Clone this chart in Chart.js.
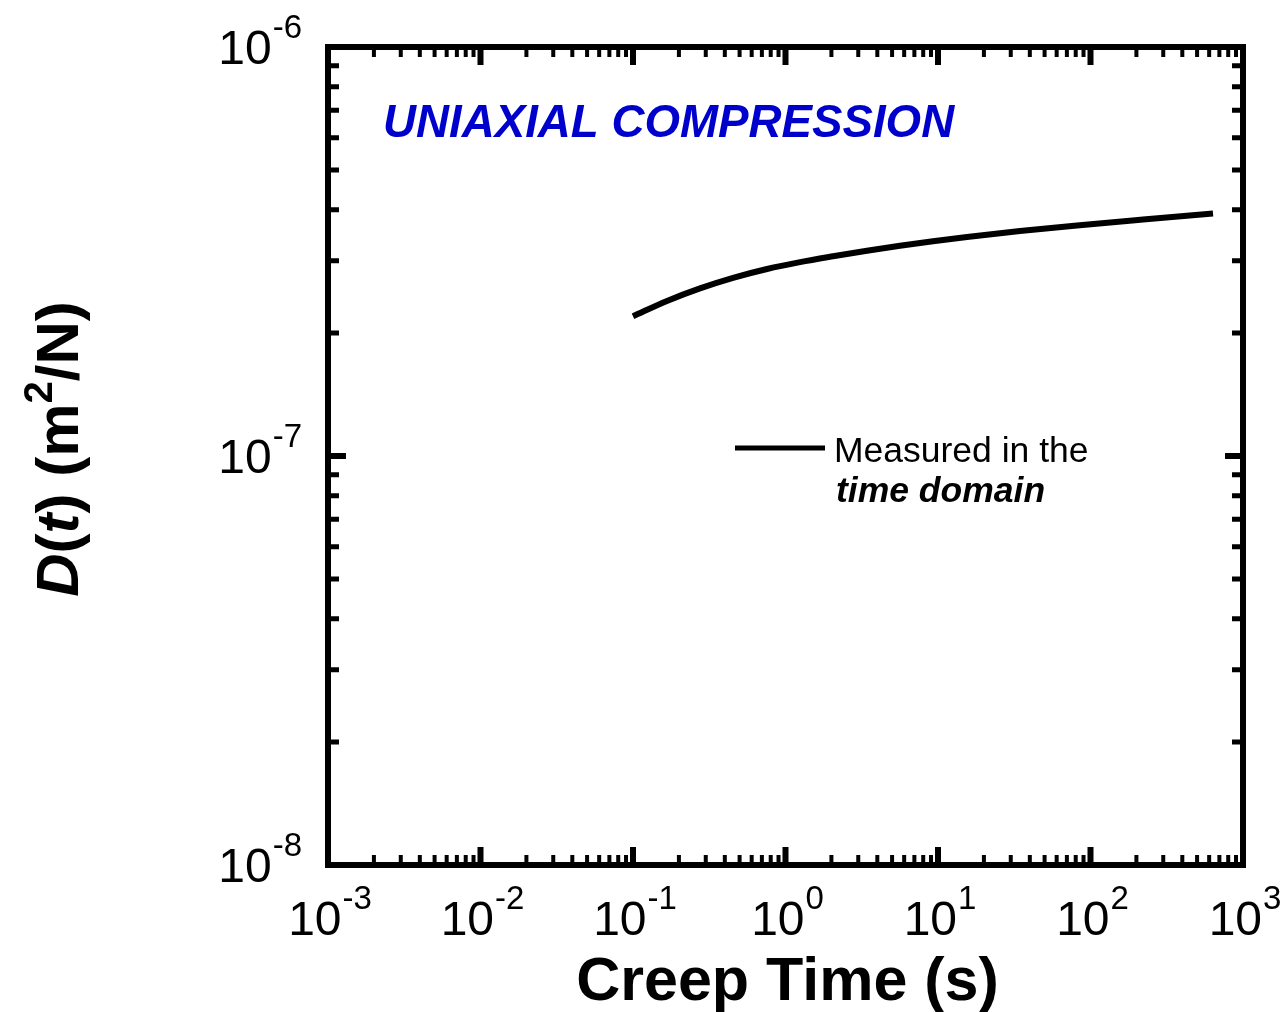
<!DOCTYPE html>
<html>
<head>
<meta charset="utf-8">
<title>Creep compliance</title>
<script src="https://cdn.jsdelivr.net/npm/chart.js@4/dist/chart.umd.min.js"></script>
<style>
  html, body { margin: 0; padding: 0; background: #fff; }
  #chart { display: block; }
</style>
</head>
<body>
<canvas id="chart" width="1288" height="1012"></canvas>
<script>
// creep compliance D(t) measured in the time domain
const creepTime = [0.1, 0.167, 0.275, 0.453, 0.757, 1.245, 2.05, 3.42, 5.63, 9.27, 15.5, 34.5, 81.5, 221, 636];
const compliance = [2.196e-7, 2.394e-7, 2.569e-7, 2.726e-7, 2.865e-7, 2.978e-7, 3.078e-7, 3.177e-7, 3.267e-7, 3.351e-7, 3.433e-7, 3.547e-7, 3.662e-7, 3.786e-7, 3.916e-7];

// axis decades (tick labels are 10^exp)
const xExponents = [-3, -2, -1, 0, 1, 2, 3];
const yExponents = [-8, -7, -6];

const FONT = '"Liberation Sans", Arial, Helvetica, sans-serif';

function minorTicks(exps) {
  const out = [];
  for (let i = 0; i < exps.length - 1; i++) {
    for (let m = 2; m <= 9; m++) out.push(m * Math.pow(10, exps[i]));
  }
  return out;
}

// "10" with a superscript exponent; returns total width
function powWidth(ctx, exp) {
  ctx.font = '48px ' + FONT;
  const w1 = ctx.measureText('10').width;
  ctx.font = '33px ' + FONT;
  return w1 + ctx.measureText(String(exp)).width + 1;
}
function drawPow(ctx, x, y, exp) {
  ctx.textAlign = 'left';
  ctx.textBaseline = 'alphabetic';
  ctx.font = '48px ' + FONT;
  ctx.fillText('10', x, y);
  const w1 = ctx.measureText('10').width;
  ctx.font = '33px ' + FONT;
  ctx.fillText(String(exp), x + w1 + 1, y - 26);
}

// draw a sequence of styled runs along the current baseline
function drawRuns(ctx, runs, x, y) {
  let cx = x;
  runs.forEach(r => {
    ctx.font = r.font;
    ctx.fillText(r.text, cx, y + (r.dy || 0));
    cx += ctx.measureText(r.text).width;
  });
}
function runsWidth(ctx, runs) {
  return runs.reduce((s, r) => { ctx.font = r.font; return s + ctx.measureText(r.text).width; }, 0);
}

const framePlugin = {
  id: 'frame',
  afterDraw(chart) {
    const ctx = chart.ctx;
    const a = chart.chartArea;
    const xs = chart.scales.x, ys = chart.scales.y;
    ctx.save();
    ctx.fillStyle = '#000';
    ctx.strokeStyle = '#000';

    // inward ticks on all four sides
    const xMajor = xExponents.map(e => Math.pow(10, e));
    const yMajor = yExponents.map(e => Math.pow(10, e));
    const xMinor = minorTicks(xExponents);
    const yMinor = minorTicks(yExponents);
    ctx.lineCap = 'butt';
    function xTick(v, len, w) {
      const px = xs.getPixelForValue(v);
      ctx.lineWidth = w;
      ctx.beginPath();
      ctx.moveTo(px, a.bottom); ctx.lineTo(px, a.bottom - len);
      ctx.moveTo(px, a.top); ctx.lineTo(px, a.top + len);
      ctx.stroke();
    }
    function yTick(v, len, w) {
      const py = ys.getPixelForValue(v);
      ctx.lineWidth = w;
      ctx.beginPath();
      ctx.moveTo(a.left, py); ctx.lineTo(a.left + len, py);
      ctx.moveTo(a.right, py); ctx.lineTo(a.right - len, py);
      ctx.stroke();
    }
    xMinor.forEach(v => xTick(v, 10, 4));
    xMajor.forEach(v => xTick(v, 18, 6));
    yMinor.forEach(v => yTick(v, 11, 5));
    yMajor.forEach(v => yTick(v, 18, 6));

    // frame
    ctx.lineWidth = 6;
    ctx.strokeRect(a.left, a.top, a.right - a.left, a.bottom - a.top);

    // x tick labels
    xExponents.forEach(e => {
      const px = xs.getPixelForValue(Math.pow(10, e));
      const w = powWidth(ctx, e);
      drawPow(ctx, px - w / 2 + 2, 935, e);
    });
    // y tick labels
    yExponents.forEach(e => {
      const py = ys.getPixelForValue(Math.pow(10, e));
      const w = powWidth(ctx, e);
      drawPow(ctx, 302 - w, py + 17, e);
    });

    // x axis title
    ctx.font = 'bold 61px ' + FONT;
    ctx.textAlign = 'center';
    ctx.fillText('Creep Time (s)', (a.left + a.right) / 2 + 2, 1000);

    // y axis title
    const bi = 'italic bold 60px ' + FONT, b = 'bold 60px ' + FONT;
    const yRuns = [
      { text: 'D', font: bi }, { text: '(', font: b }, { text: 't', font: bi },
      { text: ') (m', font: b }, { text: '2', font: 'bold 40px ' + FONT, dy: -26 },
      { text: '/N)', font: b }
    ];
    ctx.save();
    ctx.translate(78, 449);
    ctx.rotate(-Math.PI / 2);
    ctx.textAlign = 'left';
    drawRuns(ctx, yRuns, -runsWidth(ctx, yRuns) / 2, 0);
    ctx.restore();

    // annotation
    ctx.textAlign = 'left';
    ctx.fillStyle = '#0000cc';
    ctx.font = 'italic bold 45.7px ' + FONT;
    ctx.fillText('UNIAXIAL COMPRESSION', 383, 137);

    // legend
    ctx.strokeStyle = '#000';
    ctx.lineWidth = 5;
    ctx.beginPath();
    ctx.moveTo(735, 448); ctx.lineTo(825, 448);
    ctx.stroke();
    ctx.fillStyle = '#000';
    ctx.font = '35.5px ' + FONT;
    ctx.fillText('Measured in the', 834, 462);
    ctx.font = 'italic bold 35.5px ' + FONT;
    ctx.fillText('time domain', 836, 502);
    ctx.restore();
  }
};

new Chart(document.getElementById('chart'), {
  type: 'line',
  data: {
    datasets: [{
      label: 'Measured in the time domain',
      data: creepTime.map((t, i) => ({ x: t, y: compliance[i] })),
      borderColor: '#000',
      borderWidth: 6,
      pointRadius: 0,
      tension: 0.4,
      cubicInterpolationMode: 'monotone',
      fill: false
    }]
  },
  options: {
    responsive: false,
    devicePixelRatio: 1,
    animation: false,
    layout: { padding: { left: 328, right: 45, top: 47, bottom: 147 } },
    plugins: { legend: { display: false }, tooltip: { enabled: false } },
    scales: {
      x: { type: 'logarithmic', min: 1e-3, max: 1e3, display: false },
      y: { type: 'logarithmic', min: 1e-8, max: 1e-6, display: false }
    }
  },
  plugins: [framePlugin]
});
</script>
</body>
</html>
